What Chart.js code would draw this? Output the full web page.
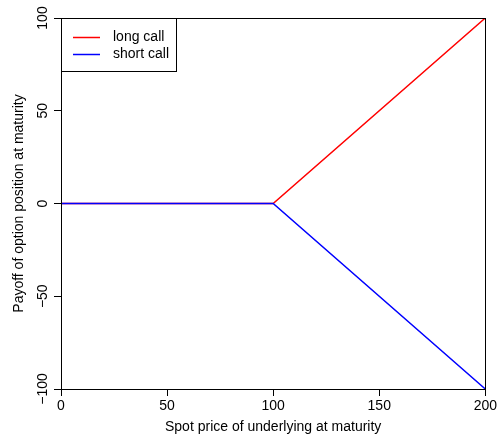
<!DOCTYPE html>
<html>
<head>
<meta charset="utf-8">
<script src="https://cdn.jsdelivr.net/npm/chart.js@4/dist/chart.umd.min.js"></script>
<style>
  html, body { margin: 0; padding: 0; background: #fff; }
  #wrap { width: 499px; height: 439px; }
</style>
</head>
<body>
<div id="wrap"><canvas id="c" width="499" height="439"></canvas></div>
<script>
// Spot prices at maturity and the payoff of each option position (strike 100)
const spotPrices = [0, 100, 200];
const longCallPayoff = [0, 0, 100];
const shortCallPayoff = [0, 0, -100];
const seriesNames = ['long call', 'short call'];
const xTickValues = [0, 50, 100, 150, 200];
const yTickValues = [-100, -50, 0, 50, 100];

const FONT = 'Liberation Sans, Arial, Helvetica, sans-serif';
const FONT_SIZE = 14;

const toPoints = (xs, ys) => xs.map((x, i) => ({ x: x, y: ys[i] }));

// Frame box, rotated y tick labels and the boxed legend
const extras = {
  id: 'extras',
  afterDraw(chart) {
    const ctx = chart.ctx;
    const xs = chart.scales.x;
    const ys = chart.scales.y;
    const x0 = Math.round(xs.getPixelForValue(xs.min)) + 0.5;
    const x1 = Math.round(xs.getPixelForValue(xs.max)) + 0.5;
    const y0 = Math.round(ys.getPixelForValue(ys.max)) + 0.5;
    const y1 = Math.round(ys.getPixelForValue(ys.min)) + 0.5;
    ctx.save();
    ctx.strokeStyle = '#000';
    ctx.lineWidth = 1;
    ctx.strokeRect(x0, y0, x1 - x0, y1 - y0);

    // y tick labels, reading bottom to top
    ctx.fillStyle = '#000';
    ctx.font = FONT_SIZE + 'px ' + FONT;
    ctx.textAlign = 'center';
    ctx.textBaseline = 'middle';
    yTickValues.forEach(v => {
      const py = ys.getPixelForValue(v);
      ctx.save();
      ctx.translate(43, py);
      ctx.rotate(-Math.PI / 2);
      ctx.fillText(v < 0 ? '\u2212' + Math.abs(v) : String(v), 0, 0);
      ctx.restore();
    });

    // legend
    ctx.strokeStyle = '#000';
    ctx.lineWidth = 1;
    ctx.strokeRect(x0, y0, 115, 53);
    ctx.textAlign = 'left';
    chart.data.datasets.forEach((ds, i) => {
      const rowY = 37 + i * 17;
      ctx.strokeStyle = ds.borderColor;
      ctx.lineWidth = 1.5;
      ctx.beginPath();
      ctx.moveTo(73, rowY + 0.5);
      ctx.lineTo(100, rowY + 0.5);
      ctx.stroke();
      ctx.fillText(ds.label, 113, rowY);
    });
    ctx.restore();
  }
};

new Chart(document.getElementById('c'), {
  type: 'line',
  data: {
    datasets: [
      { label: seriesNames[0], data: toPoints(spotPrices, longCallPayoff),
        borderColor: '#ff0000', borderWidth: 1.5, pointRadius: 0, tension: 0, order: 1 },
      { label: seriesNames[1], data: toPoints(spotPrices, shortCallPayoff),
        borderColor: '#0000ff', borderWidth: 1.5, pointRadius: 0, tension: 0, order: 0 }
    ]
  },
  options: {
    responsive: false,
    animation: false,
    layout: { padding: { top: 18, right: 12, left: 0, bottom: 0 } },
    plugins: { legend: { display: false }, tooltip: { enabled: false } },
    scales: {
      x: {
        type: 'linear', min: 0, max: 200,
        afterBuildTicks: s => { s.ticks = xTickValues.map(v => ({ value: v })); },
        afterFit: s => { s.height = 50; },
        grid: { drawOnChartArea: false, drawTicks: true, tickLength: 7, color: '#000', lineWidth: 1 },
        border: { display: false },
        ticks: { color: '#000', font: { family: FONT, size: FONT_SIZE }, padding: 2, maxRotation: 0, autoSkip: false },
        title: { display: true, text: 'Spot price of underlying at maturity', color: '#000',
                 font: { family: FONT, size: FONT_SIZE }, padding: { top: 0, bottom: 3 } }
      },
      y: {
        type: 'linear', min: -100, max: 100,
        afterBuildTicks: s => { s.ticks = yTickValues.map(v => ({ value: v })); },
        afterFit: s => { s.width = 61; },
        grid: { drawOnChartArea: false, drawTicks: true, tickLength: 7, color: '#000', lineWidth: 1 },
        border: { display: false },
        ticks: { color: 'rgba(0,0,0,0)', font: { family: FONT, size: FONT_SIZE } },
        title: { display: true, text: 'Payoff of option position at maturity', color: '#000',
                 font: { family: FONT, size: FONT_SIZE }, padding: { top: 11, bottom: 0 } }
      }
    }
  },
  plugins: [extras]
});
</script>
</body>
</html>
